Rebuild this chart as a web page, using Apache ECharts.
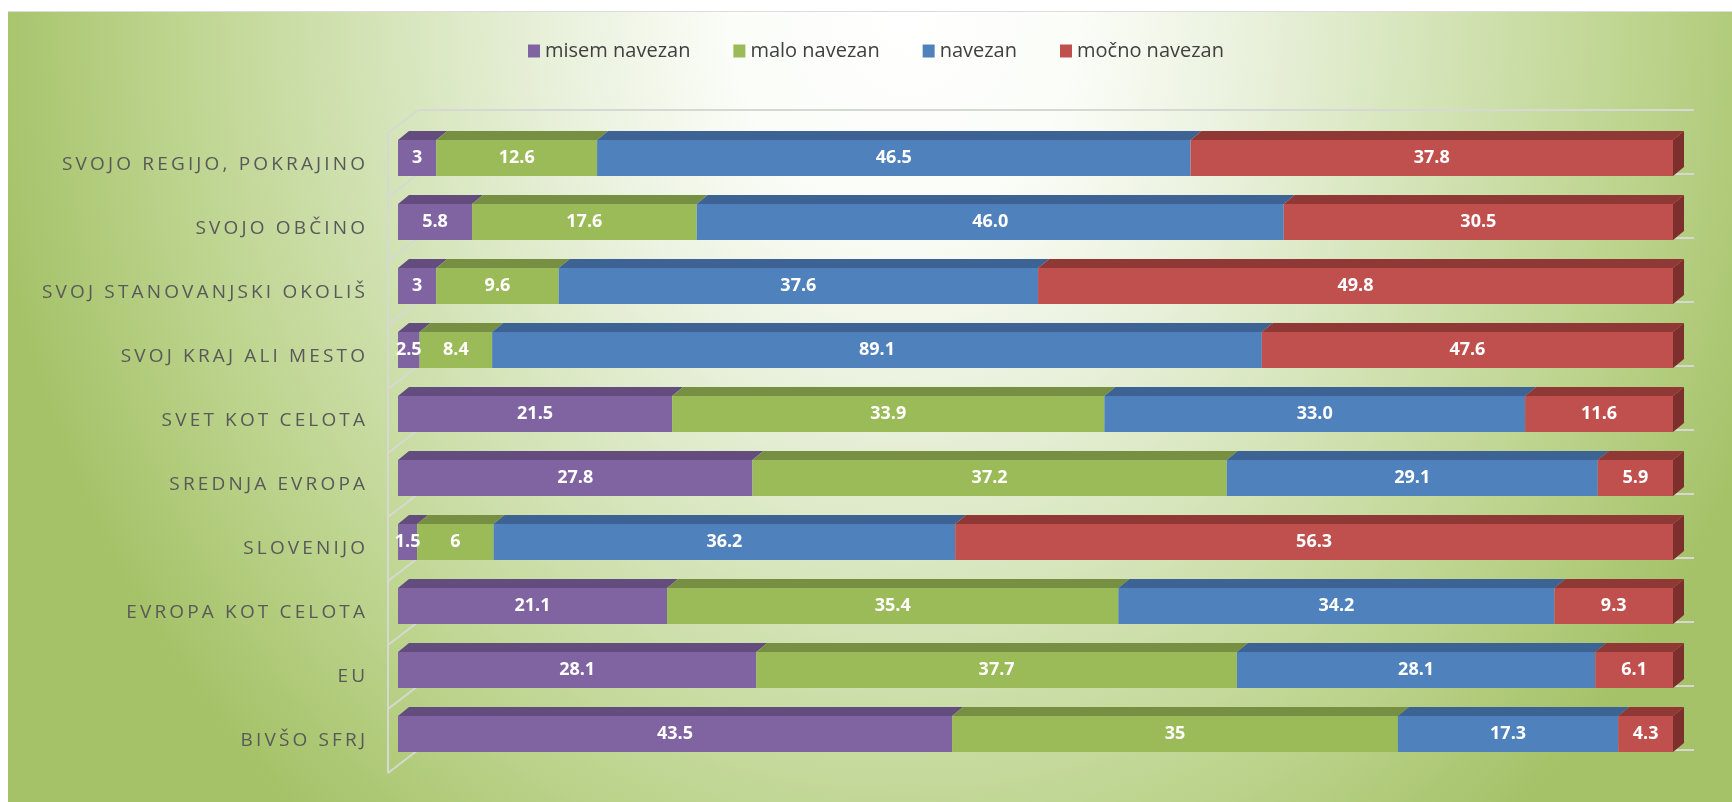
<!DOCTYPE html>
<html>
<head>
    <meta charset="UTF-8">
    <title>navezanost</title>
    <script src="https://cdn.jsdelivr.net/npm/echarts@6/dist/echarts.min.js"></script>
    <style>
        body, html {
            margin: 0;
            padding: 0;
            height: 100%;
            background: #ffffff;
        }

        #chart {
            position: absolute;
            left: 8px;
            top: 11px;
            right: 0;
            bottom: 0;
            border-top: 1px solid #dcdcdc;
            /* svetlo sredi zgoraj, zeleno proti robovom */
            background: radial-gradient(ellipse 56% 140% at 52% 0%, #ffffff 0%, #fbfdf8 18%, #e9f1dc 36%, #d3e3b5 56%, #bdd48e 76%, #a5c268 96%);
        }
    </style>
</head>
<body>
<div id="chart"></div>
<script>
    var categories = ['SVOJO REGIJO, POKRAJINO', 'SVOJO OBČINO', 'SVOJ STANOVANJSKI OKOLIŠ', 'SVOJ KRAJ ALI MESTO',
        'SVET KOT CELOTA', 'SREDNJA EVROPA', 'SLOVENIJO', 'EVROPA KOT CELOTA', 'EU', 'BIVŠO SFRJ'];
    var seriesNames = ['misem navezan', 'malo navezan', 'navezan', 'močno navezan'];

    // vrednosti, kot so izpisane na stolpcih
    var misem = ['3', '5.8', '3', '2.5', '21.5', '27.8', '1.5', '21.1', '28.1', '43.5'];
    var malo = ['12.6', '17.6', '9.6', '8.4', '33.9', '37.2', '6', '35.4', '37.7', '35'];
    var navezan = ['46.5', '46.0', '37.6', '89.1', '33.0', '29.1', '36.2', '34.2', '28.1', '17.3'];
    var mocno = ['37.8', '30.5', '49.8', '47.6', '11.6', '5.9', '56.3', '9.3', '6.1', '4.3'];

    var colors = ['#8064a2', '#9bbb59', '#4f81bd', '#c0504d'];
    var topColors = ['#634d7f', '#778f43', '#3c6393', '#8f3836'];
    var sideColor = '#7d2f2d';

    var BAR_H = 36, DX = 11, DY = 9;

    var rows = [misem, malo, navezan, mocno];
    // 100 % naložen stolpec
    var totals = categories.map(function (c, i) {
        return rows.reduce(function (s, r) { return s + parseFloat(r[i]); }, 0);
    });
    var pct = rows.map(function (r) {
        return r.map(function (v, i) { return parseFloat(v) / totals[i] * 100; });
    });

    function spaced(t) {
        return t.split('').join('\u2009');
    }

    var chart = echarts.init(document.getElementById('chart'), null, {renderer: 'canvas'});

    var faceData = [];
    categories.forEach(function (c, i) {
        var acc = 0;
        for (var s = 0; s < 4; s++) {
            faceData.push([i, acc, acc + pct[s][i], s]);
            acc += pct[s][i];
        }
    });

    var series = seriesNames.map(function (name, s) {
        return {
            name: name,
            type: 'bar',
            stack: 'all',
            barWidth: BAR_H,
            z: 3,
            itemStyle: {color: colors[s]},
            label: {
                show: true,
                position: 'inside',
                color: '#ffffff',
                fontFamily: 'Open Sans',
                fontWeight: 'bold',
                fontSize: 18,
                formatter: function (p) { return rows[s][p.dataIndex]; }
            },
            data: pct[s]
        };
    });

    // zgornje ploskve in desni bok (3D videz)
    series.push({
        type: 'custom',
        z: 2,
        silent: true,
        encode: {x: [1, 2], y: 0},
        renderItem: function (params, api) {
            var cat = api.value(0), s = api.value(3);
            var p0 = api.coord([api.value(1), cat]);
            var p1 = api.coord([api.value(2), cat]);
            var yTop = p0[1] - BAR_H / 2, yBot = p0[1] + BAR_H / 2;
            var ch = [{
                type: 'polygon',
                shape: {points: [[p0[0], yTop], [p1[0], yTop], [p1[0] + DX, yTop - DY], [p0[0] + DX, yTop - DY]]},
                style: {fill: topColors[s]}
            }];
            if (s === 3) {
                ch.push({
                    type: 'polygon',
                    shape: {points: [[p1[0], yTop], [p1[0] + DX, yTop - DY], [p1[0] + DX, yBot - DY], [p1[0], yBot]]},
                    style: {fill: sideColor}
                });
            }
            return {type: 'group', children: ch};
        },
        data: faceData
    });

    // okvir (stena in tla)
    series.push({
        type: 'custom',
        z: 1,
        silent: true,
        encode: {y: 0},
        renderItem: function (params, api) {
            var i = api.value(0);
            var c = api.coord([0, i]);
            var r = api.coord([100, i]);
            var band = api.size([0, 1])[1];
            var xL = c[0] - 10;
            var ch = [];
            var lineStyle = {stroke: '#d6d9d2', lineWidth: 2};
            var bounds = [c[1] - band / 2 + 7];
            if (i === categories.length - 1) bounds.push(c[1] + band / 2 + 7);
            bounds.forEach(function (yb) {
                ch.push({type: 'line', shape: {x1: xL, y1: yb, x2: xL + 30, y2: yb - 23}, style: lineStyle});
                ch.push({type: 'line', shape: {x1: xL + 30, y1: yb - 23, x2: r[0] + 21, y2: yb - 23}, style: lineStyle});
            });
            ch.push({type: 'line', shape: {x1: xL, y1: bounds[0], x2: xL, y2: bounds[0] + band}, style: lineStyle});
            return {type: 'group', children: ch};
        },
        data: categories.map(function (c, i) { return [i]; })
    });

    chart.setOption({
        animation: false,
        backgroundColor: 'transparent',
        legend: {
            data: seriesNames,
            top: 24,
            left: 515,
            itemWidth: 12,
            itemHeight: 13,
            itemGap: 43,
            icon: 'rect',
            textStyle: {fontFamily: 'Open Sans', fontSize: 20, color: '#404040'}
        },
        grid: {left: 390, right: 59, top: 114, bottom: 36},
        xAxis: {type: 'value', min: 0, max: 100, show: false},
        yAxis: {
            type: 'category',
            inverse: true,
            data: categories,
            axisLine: {show: false},
            axisTick: {show: false},
            axisLabel: {
                margin: 33,
                fontFamily: 'Open Sans',
                fontSize: 19,
                color: '#595959',
                verticalAlign: 'top',
                lineHeight: 14,
                formatter: spaced
            }
        },
        series: series
    });
</script>
</body>
</html>
